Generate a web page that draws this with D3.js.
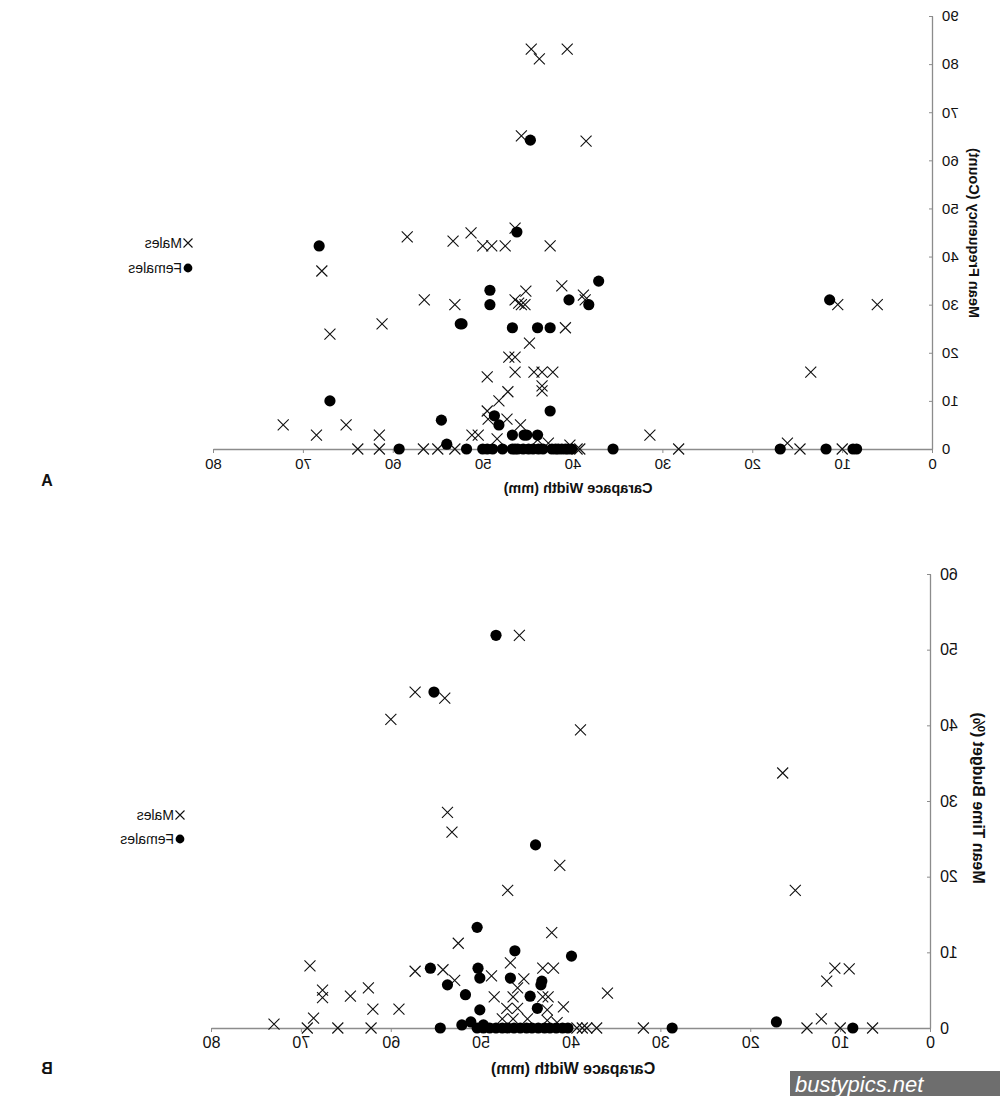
<!DOCTYPE html>
<html lang="en">
<head>
<meta charset="UTF-8">
<title>Carapace width scatter</title>
<script src="https://d3js.org/d3.v7.min.js"></script>
<style>
  body { margin: 0; background: #fff; }
  text { font-family: "Liberation Sans", Arial, sans-serif; fill: #111; }
</style>
</head>
<body>
<svg width="1000" height="1096"></svg>
<script>
// ---- data: [carapace width (mm), value] ----
const malesA = [
  [44.7,83.1],[40.7,83.1],[43.8,81.1],[45.8,65.1],[38.6,64.0],
  [46.5,45.9],[51.4,44.9],[58.5,44.1],[53.4,43.2],[42.6,42.2],[50.1,42.2],[49.1,42.2],[47.6,42.2],
  [68.0,37.0],[41.3,33.9],[45.3,32.8],[38.9,32.0],[38.7,31.0],[56.6,31.0],[53.2,30.0],
  [46.5,31.0],[46.1,30.3],[45.8,30.0],[45.4,30.0],[10.6,30.0],[6.2,30.0],
  [61.3,26.0],[67.1,23.9],[40.9,25.2],[44.9,22.0],
  [47.2,19.1],[46.5,19.1],[46.5,16.0],[44.4,16.0],[43.5,16.0],[42.3,16.0],[49.6,15.0],
  [43.5,13.1],[43.5,12.1],[47.3,11.9],[48.3,10.0],[49.6,7.9],[49.5,6.2],[47.4,6.2],[45.9,5.0],
  [51.3,2.9],[50.6,2.9],[48.5,2.1],[44.0,1.9],[72.3,5.0],[68.6,2.9],[65.3,5.0],[61.6,2.9],
  [64.0,0],[61.6,0],[56.7,0],[55.1,0],[53.2,0],[42.8,1.2],[40.4,0.8],[39.6,0],[39.3,0],
  [31.5,2.9],[28.3,0],[16.2,1.2],[14.8,0],[13.6,16.0],[10.1,0]
];
const femalesA = [
  [44.8,64.2],[68.3,42.2],[46.3,45.1],[37.2,34.9],[49.3,33.0],[49.3,30.0],[40.5,31.0],[38.3,30.0],[11.5,31.0],
  [52.6,26.0],[52.4,26.0],[46.8,25.2],[44.0,25.2],[42.6,25.2],
  [67.1,10.0],[42.6,7.9],[54.7,6.0],[48.8,6.9],[48.3,5.0],[46.8,2.9],[45.5,2.9],[45.2,2.9],[44.0,2.9],
  [54.1,1.0],[59.4,0],[51.9,0],[35.6,0],[17.0,0],[11.9,0],[8.9,0],[8.5,0],
  [50.1,0],[49.6,0],[49.0,0],[47.9,0],[46.8,0],[46.5,0],[46.2,0],[45.6,0],[45.0,0],[44.5,0],
  [43.9,0],[43.4,0],[42.4,0],[42.0,0],[41.7,0],[41.3,0],[40.9,0],[40.6,0],[40.2,0]
];
const malesB = [
  [45.8,51.9],[57.4,44.4],[54.1,43.6],[60.1,40.8],[39.0,39.4],[16.5,33.7],[53.8,28.5],[53.3,25.9],
  [41.3,21.5],[47.1,18.2],[15.1,18.2],
  [42.2,12.6],[52.6,11.2],[69.1,8.2],[54.3,7.7],[57.4,7.5],[10.7,7.9],[9.1,7.8],[11.6,6.2],
  [67.7,5.0],[67.7,4.0],[64.6,4.2],[62.6,5.3],[62.1,2.5],[59.2,2.5],[36.0,4.6],[68.7,1.3],[12.2,1.2],
  [73.1,0.5],[69.4,0],[66.0,0],[62.3,0],[32.0,0],[13.8,0],[10.1,0],[6.5,0],
  [53.0,6.3],[46.8,8.6],[48.9,6.9],[45.3,6.5],[43.2,7.9],[42.0,7.9],[48.6,4.1],[46.0,5.3],
  [46.5,4.1],[43.2,4.1],[42.6,4.1],[47.2,2.6],[46.0,2.6],[40.9,2.8],[42.7,2.4],
  [47.7,1.2],[46.5,1.2],[44.9,1.2],[42.7,1.0],[41.6,0.7],
  [39.4,0],[38.8,0],[38.3,0],[37.2,0]
];
const femalesB = [
  [48.4,51.9],[55.3,44.4],[44.0,24.2],[50.5,13.3],[46.3,10.2],[40.0,9.5],[55.7,7.9],[50.4,7.9],
  [50.2,6.6],[53.8,5.7],[51.8,4.4],[46.8,6.6],[43.3,6.2],[43.4,5.7],[44.6,4.2],[50.2,2.4],[43.8,2.6],
  [54.6,0],[52.2,0.4],[51.2,0.8],[49.8,0.4],[28.8,0],[17.2,0.8],[8.7,0],
  [50.5,0],[49.8,0],[49.1,0],[48.4,0],[47.7,0],[47.1,0],[46.4,0],[45.7,0],[45.0,0],[44.4,0],
  [43.7,0],[43.0,0],[42.4,0],[41.7,0],[41.0,0],[40.4,0]
];
const xTicks = [0, 10, 20, 30, 40, 50, 60, 70, 80];
const yTicksA = [0, 10, 20, 30, 40, 50, 60, 70, 80, 90];
const yTicksB = [0, 10, 20, 30, 40, 50, 60];

const svg = d3.select("svg");
// the reference figure is a left-right mirror image, so the whole chart is flipped
const root = svg.append("g").attr("transform", "translate(1000,0) scale(-1,1)");

function panel(cfg) {
  const x = d3.scaleLinear().domain([0, 80]).range([cfg.left, cfg.right]);
  const y = d3.scaleLinear().domain([0, cfg.ymax]).range([cfg.bottom, cfg.top]);
  const g = root.append("g");

  const xa = g.append("g")
    .attr("transform", `translate(0,${cfg.bottom})`)
    .call(d3.axisBottom(x).tickValues(xTicks).tickSize(4).tickPadding(5).tickSizeOuter(0));
  const ya = g.append("g")
    .attr("transform", `translate(${cfg.left},0)`)
    .call(d3.axisLeft(y).tickValues(cfg.yTicks).tickSize(-4).tickPadding(9).tickSizeOuter(0));
  [xa, ya].forEach(a => {
    a.attr("font-size", cfg.tickFont).attr("font-family", "Liberation Sans, Arial, sans-serif");
    a.select(".domain").attr("stroke", "#8c8c8c").attr("stroke-width", 1.3);
    a.selectAll(".tick line").attr("stroke", "#8c8c8c");
    a.selectAll(".tick text").attr("fill", "#111");
  });

  const s = 5.5;
  g.selectAll(".male").data(cfg.males).join("path")
    .attr("d", d => `M${x(d[0]) - s},${y(d[1]) - s}L${x(d[0]) + s},${y(d[1]) + s}M${x(d[0]) - s},${y(d[1]) + s}L${x(d[0]) + s},${y(d[1]) - s}`)
    .attr("stroke", "#111").attr("stroke-width", 1.1).attr("fill", "none");
  g.selectAll(".female").data(cfg.females).join("circle")
    .attr("cx", d => x(d[0])).attr("cy", d => y(d[1])).attr("r", 5.6).attr("fill", "#000");

  // axis titles
  g.append("text").attr("x", cfg.xTitleX).attr("y", cfg.xTitleY).attr("text-anchor", "middle")
    .attr("font-weight", "bold").attr("font-size", cfg.titleFont).text("Carapace Width (mm)");
  g.append("text").attr("transform", `translate(${cfg.yTitleX},${cfg.yTitleY}) rotate(-90)`)
    .attr("text-anchor", "middle").attr("font-weight", "bold").attr("font-size", cfg.titleFont)
    .text(cfg.yTitle);
  g.append("text").attr("x", 953).attr("y", cfg.letterY).attr("text-anchor", "middle")
    .attr("font-weight", "bold").attr("font-size", 16).text(cfg.letter);

  // legend
  const lg = g.append("g").attr("transform", `translate(${cfg.legX},${cfg.legY})`);
  lg.append("path").attr("d", "M-4.5,-4.5L4.5,4.5M-4.5,4.5L4.5,-4.5").attr("stroke", "#111").attr("stroke-width", 1.1);
  lg.append("text").attr("x", 6).attr("y", 5).attr("font-size", cfg.legFont).text("Males");
  lg.append("circle").attr("cx", 0).attr("cy", cfg.legGap).attr("r", 4.4).attr("fill", "#000");
  lg.append("text").attr("x", 6).attr("y", cfg.legGap + 5).attr("font-size", cfg.legFont).text("Females");
}

panel({
  left: 67, right: 786, top: 16, bottom: 449, ymax: 90, yTicks: yTicksA,
  males: malesA, females: femalesA, tickFont: 15, titleFont: 14.5,
  xTitleX: 422, xTitleY: 493, yTitleX: 31, yTitleY: 233, yTitle: "Mean Frequency (Count)",
  letter: "A", letterY: 486, legX: 812, legY: 243, legGap: 25, legFont: 14
});
panel({
  left: 69, right: 788, top: 574, bottom: 1028, ymax: 60, yTicks: yTicksB,
  males: malesB, females: femalesB, tickFont: 16, titleFont: 16,
  xTitleX: 427, xTitleY: 1074, yTitleX: 27, yTitleY: 798, yTitle: "Mean Time Budget (%)",
  letter: "B", letterY: 1074, legX: 820, legY: 815, legGap: 24, legFont: 14
});

// site watermark (not mirrored)
svg.append("rect").attr("x", 790).attr("y", 1071).attr("width", 210).attr("height", 25).attr("fill", "#6e6e6e");
svg.append("text").attr("x", 795).attr("y", 1092).attr("font-size", 22).attr("font-style", "italic")
  .style("fill", "#fff").text("bustypics.net");
</script>
</body>
</html>
